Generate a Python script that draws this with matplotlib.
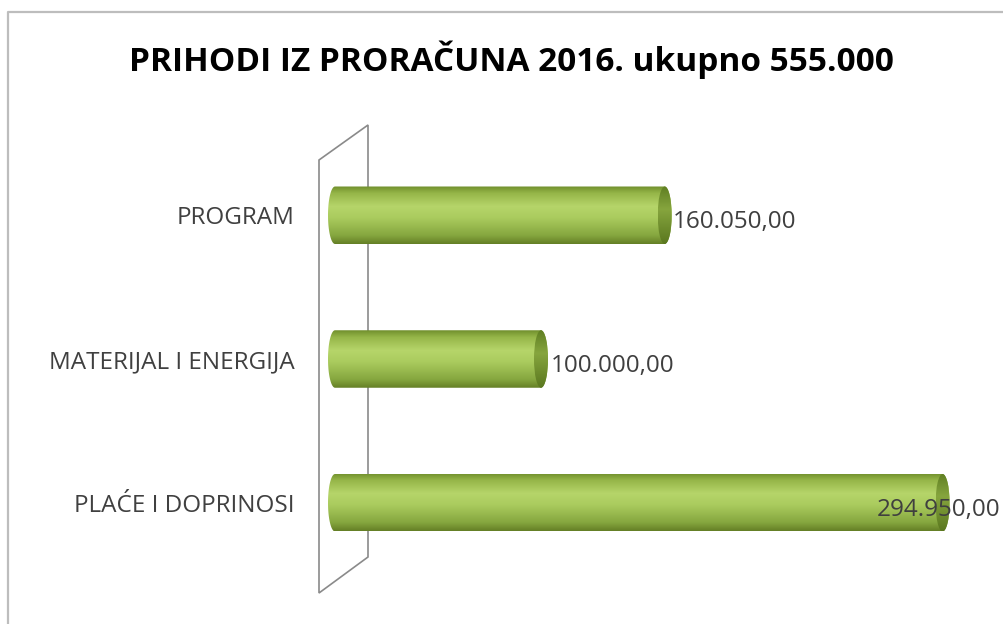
import numpy as np
import matplotlib
matplotlib.use("Agg")
import matplotlib.pyplot as plt
from matplotlib.path import Path
from matplotlib.patches import PathPatch, Ellipse, Polygon
from matplotlib.colors import LinearSegmentedColormap

# data
categories = ["PLAĆE I DOPRINOSI", "MATERIJAL I ENERGIJA", "PROGRAM"]
values = [294950.00, 100000.00, 160050.00]
title = "PRIHODI IZ PRORAČUNA 2016. ukupno 555.000"

# label nudges in pixels (Excel pushed the big one inside the bar)
label_dx = [-66, 10, 8]
label_dy = -7

FONT = "Open Sans"
W, H = 1004, 624

body_cmap = LinearSegmentedColormap.from_list("body", [
    (0.0, "#6f8e2c"), (0.12, "#95b548"), (0.35, "#b6d56a"),
    (0.55, "#aacb5e"), (0.85, "#86a73f"), (1.0, "#647f25")])
cap_cmap = LinearSegmentedColormap.from_list("cap", [
    (0.0, "#5f7e22"), (0.4, "#86a53e"), (1.0, "#5a771f")])


def fmt_hr(v):
    s = f"{v:,.2f}"
    return s.replace(",", "X").replace(".", ",").replace("X", ".")


def cylinder_path(x0, x1, yc, h, rx, n=40):
    # outline: left half ellipse, body, right half ellipse
    t1 = np.linspace(np.pi / 2, 3 * np.pi / 2, n)
    left = np.column_stack([x0 + rx * np.cos(t1), yc + h / 2 * np.sin(t1)])
    t2 = np.linspace(-np.pi / 2, np.pi / 2, n)
    right = np.column_stack([x1 + rx * np.cos(t2), yc + h / 2 * np.sin(t2)])
    verts = np.vstack([left, right, left[:1]])
    codes = [Path.MOVETO] + [Path.LINETO] * (len(verts) - 2) + [Path.CLOSEPOLY]
    return Path(verts, codes)


fig = plt.figure(figsize=(W / 100, H / 100), dpi=100)
fig.patch.set_facecolor("white")

# background layer in pixel coords: frame + 3d wall
bg = fig.add_axes([0, 0, 1, 1])
bg.set_xlim(0, W)
bg.set_ylim(H, 0)
bg.axis("off")
bg.plot([8, 8, W], [H, 12, 12], color="#bdbdbd", lw=1.6, solid_capstyle="butt")
wall = Polygon([(319, 160), (368, 125), (368, 557), (319, 593)], closed=True,
               facecolor="white", edgecolor="#8a8a8a", lw=1.2)
bg.add_patch(wall)

bg.text(511, 60, title, ha="center", va="center", fontsize=24,
        fontweight="bold", family=FONT, color="#000000")

# plot axes, zero of value scale sits at x=335 px
ppu = 0.00206           # pixels per unit
ax_left, ax_right = 300, 994
zero_px = 335
ax = fig.add_axes([ax_left / W, (H - 589) / H, (ax_right - ax_left) / W, 460 / H])
ax.set_facecolor("none")
ax.set_zorder(2)
xlim = (-(zero_px - ax_left) / ppu, (ax_right - zero_px) / ppu)

bar_h = 0.40
rx = 7 / ppu
grad = np.linspace(0, 1, 256).reshape(-1, 1)

for i, (cat, v) in enumerate(zip(categories, values)):
    path = cylinder_path(0, v, i, bar_h, rx)
    outline = PathPatch(path, facecolor="none", edgecolor="none")
    ax.add_patch(outline)
    im = ax.imshow(grad, cmap=body_cmap, aspect="auto", origin="upper",
                   extent=(-rx, v + rx, i - bar_h / 2, i + bar_h / 2),
                   interpolation="bilinear", zorder=2)
    im.set_clip_path(outline)

    cap = Ellipse((v, i), 2 * rx, bar_h, facecolor="none", edgecolor="none")
    ax.add_patch(cap)
    im2 = ax.imshow(grad, cmap=cap_cmap, aspect="auto", origin="upper",
                    extent=(v - rx, v + rx, i - bar_h / 2, i + bar_h / 2),
                    interpolation="bilinear", zorder=3)
    im2.set_clip_path(cap)

    ax.annotate(fmt_hr(v), xy=(v, i), xytext=(label_dx[i], label_dy),
                textcoords="offset pixels", ha="left", va="center",
                fontsize=17.5, family=FONT, color="#3f3f3f", zorder=4,
                annotation_clip=False)

ax.set_xlim(*xlim)
ax.set_ylim(-0.6, 2.6)
ax.set_yticks(range(len(categories)))
ax.set_yticklabels(categories, fontsize=17.5, family=FONT, color="#404040")
ax.tick_params(axis="y", length=0, pad=4)
ax.set_xticks([])
for s in ax.spines.values():
    s.set_visible(False)

fig.savefig("out.png", dpi=100, facecolor="white")
